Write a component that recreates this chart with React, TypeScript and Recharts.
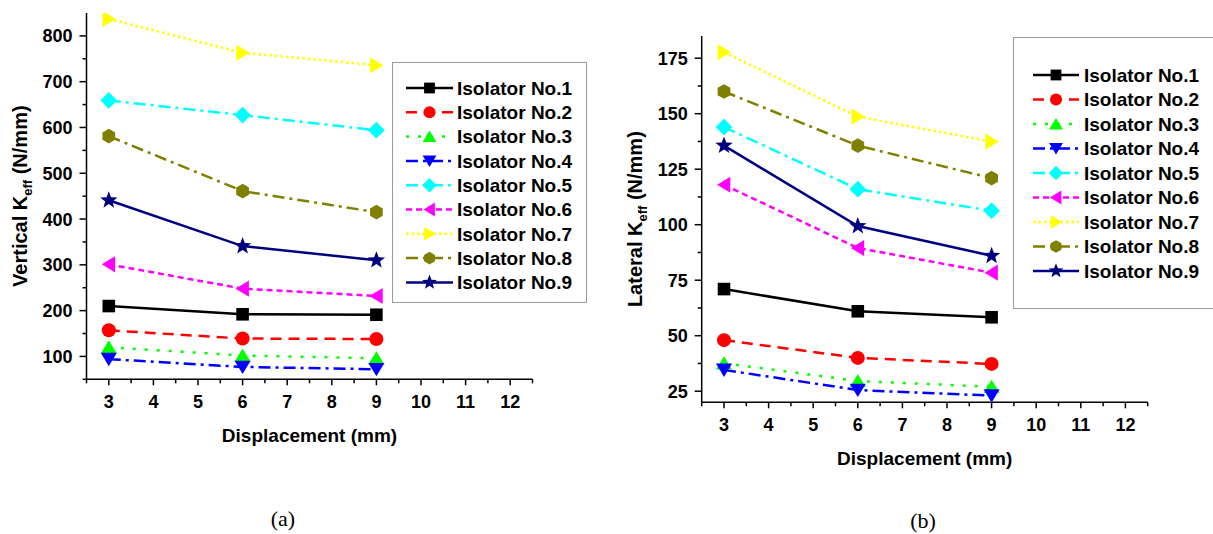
import { LineChart, Line, XAxis, YAxis, Legend } from 'recharts'

// --- Data ---

const displacement = [3, 6, 9]

const isolatorNames = [
  'Isolator No.1',
  'Isolator No.2',
  'Isolator No.3',
  'Isolator No.4',
  'Isolator No.5',
  'Isolator No.6',
  'Isolator No.7',
  'Isolator No.8',
  'Isolator No.9',
]

// (a) vertical effective stiffness, N/mm
const verticalKeff = [
  [210, 192, 191],
  [157, 139, 138],
  [120, 102, 96],
  [94, 77, 72],
  [659, 627, 594],
  [301, 248, 232],
  [837, 763, 736],
  [581, 461, 415],
  [441, 341, 310],
]

// (b) lateral effective stiffness, N/mm
const lateralKeff = [
  [71, 61, 58.3],
  [48, 40, 37.3],
  [37.6, 29.6, 27],
  [34.6, 25.5, 23],
  [144, 116, 106.3],
  [118, 89.5, 78.4],
  [177.7, 148.7, 137.4],
  [160, 135.6, 121],
  [135.6, 99.4, 86],
]

const xTicks = [2.5, 3, 3.5, 4, 4.5, 5, 5.5, 6, 6.5, 7, 7.5, 8, 8.5, 9, 9.5, 10, 10.5, 11, 11.5, 12, 12.5]
const verticalTicks = [50, 100, 150, 200, 250, 300, 350, 400, 450, 500, 550, 600, 650, 700, 750, 800]
const lateralTicks = [25, 37.5, 50, 62.5, 75, 87.5, 100, 112.5, 125, 137.5, 150, 162.5, 175]

// --- Styles ---

type Shape = 'square' | 'circle' | 'up' | 'down' | 'diamond' | 'left' | 'right' | 'hexagon' | 'star'

const seriesStyle: { color: string; dash?: string; shape: Shape }[] = [
  { color: '#000000', shape: 'square' },
  { color: '#ff0000', dash: '11 7', shape: 'circle' },
  { color: '#00ff00', dash: '3 9', shape: 'up' },
  { color: '#0000ff', dash: '12 5 3 5', shape: 'down' },
  { color: '#00ffff', dash: '12 5 3 5', shape: 'diamond' },
  { color: '#ff00ff', dash: '6 4', shape: 'left' },
  { color: '#ffff00', dash: '2.5 3', shape: 'right' },
  { color: '#808000', dash: '12 5 3 5', shape: 'hexagon' },
  { color: '#000080', shape: 'star' },
]

const FONT = "'Liberation Sans', Arial, sans-serif"

function buildRows(values: number[][]) {
  return displacement.map((x, i) => {
    const row: Record<string, number> = { x }
    values.forEach((s, k) => {
      row[`s${k}`] = s[i]
    })
    return row
  })
}

// --- Markers ---

function Marker({ shape, cx, cy, color, s }: { shape: Shape; cx: number; cy: number; color: string; s: number }) {
  const h = s / 2
  switch (shape) {
    case 'square':
      return <rect x={cx - h * 0.9} y={cy - h * 0.9} width={s * 0.9} height={s * 0.9} fill={color} />
    case 'circle':
      return <circle cx={cx} cy={cy} r={h} fill={color} />
    case 'up':
      return <polygon points={`${cx},${cy - h} ${cx - h * 1.15},${cy + h * 0.9} ${cx + h * 1.15},${cy + h * 0.9}`} fill={color} />
    case 'down':
      return <polygon points={`${cx},${cy + h} ${cx - h * 1.15},${cy - h * 0.9} ${cx + h * 1.15},${cy - h * 0.9}`} fill={color} />
    case 'left':
      return <polygon points={`${cx - h},${cy} ${cx + h * 0.9},${cy - h * 1.15} ${cx + h * 0.9},${cy + h * 1.15}`} fill={color} />
    case 'right':
      return <polygon points={`${cx + h},${cy} ${cx - h * 0.9},${cy - h * 1.15} ${cx - h * 0.9},${cy + h * 1.15}`} fill={color} />
    case 'diamond': {
      const r = h * 1.2
      return <polygon points={`${cx},${cy - r} ${cx + r},${cy} ${cx},${cy + r} ${cx - r},${cy}`} fill={color} />
    }
    case 'hexagon': {
      const r = h * 1.05
      const pts = [0, 1, 2, 3, 4, 5]
        .map(k => {
          const a = (Math.PI / 3) * k + Math.PI / 6
          return `${cx + r * Math.cos(a)},${cy + r * Math.sin(a)}`
        })
        .join(' ')
      return <polygon points={pts} fill={color} />
    }
    case 'star': {
      const ro = h * 1.3
      const ri = ro * 0.42
      const pts = Array.from({ length: 10 }, (_, k) => {
        const r = k % 2 === 0 ? ro : ri
        const a = -Math.PI / 2 + (Math.PI / 5) * k
        return `${cx + r * Math.cos(a)},${cy + r * Math.sin(a)}`
      }).join(' ')
      return <polygon points={pts} fill={color} />
    }
  }
  return null
}

// --- Axis pieces ---

function XTick({ x, y, payload }: any) {
  const v = payload.value
  const major = Number.isInteger(v)
  return (
    <g>
      <line x1={x} x2={x} y1={y} y2={y + (major ? 6 : 4)} stroke="#000" strokeWidth={1.5} />
      {major && (
        <text x={x} y={y + 22} dy="0.36em" textAnchor="middle" fontFamily={FONT} fontWeight="bold" fontSize={18} fill="#000">
          {v}
        </text>
      )}
    </g>
  )
}

function makeYTick(step: number, min: number, max: number) {
  return ({ x, y, payload }: any) => {
    const v = payload.value
    const major = v % step === 0
    return (
      <g>
        <line x1={x - (major ? 7 : 4)} x2={x} y1={y} y2={y} stroke="#000" strokeWidth={1.5} />
        {major && v >= min && v <= max && (
          <text x={x - 14} y={y} dy="0.36em" textAnchor="end" fontFamily={FONT} fontWeight="bold" fontSize={18} fill="#000">
            {v}
          </text>
        )}
      </g>
    )
  }
}

function xTitle(props: any) {
  const vb = props.viewBox
  return (
    <text x={vb.x + vb.width / 2} y={vb.y + 56} dy="0.36em" textAnchor="middle" fontFamily={FONT} fontWeight="bold" fontSize={19} fill="#000">
      Displacement (mm)
    </text>
  )
}

function makeYTitle(word: string) {
  return (props: any) => {
    const vb = props.viewBox
    const cx = vb.x + vb.width - 67
    const cy = vb.y + vb.height / 2
    return (
      <text
        x={cx}
        y={cy}
        dy="0.36em"
        textAnchor="middle"
        transform={`rotate(-90, ${cx}, ${cy})`}
        fontFamily={FONT}
        fontWeight="bold"
        fontSize={20}
        fill="#000"
      >
        {word} K
        <tspan fontSize={13} dy={5}>eff</tspan>
        <tspan dy={-5}> (N/mm)</tspan>
      </text>
    )
  }
}

// --- Legend ---

interface LegendLayout {
  width: number
  height: number
  lineX1: number
  lineX2: number
  markerX: number
  textX: number
  firstY: number
  gap: number
}

function LegendBox({ lay, openRight }: { lay: LegendLayout; openRight?: boolean }) {
  return (
    <div
      style={{
        width: lay.width,
        height: lay.height,
        boxSizing: 'border-box',
        border: '1px solid #9a9a9a',
        borderRight: openRight ? 'none' : '1px solid #9a9a9a',
        background: '#fff',
      }}
    >
      <svg width={lay.width - 2} height={lay.height - 2} style={{ display: 'block' }}>
        {isolatorNames.map((name, i) => {
          const st = seriesStyle[i]
          const y = lay.firstY + i * lay.gap
          return (
            <g key={name}>
              <line x1={lay.lineX1} x2={lay.lineX2} y1={y} y2={y} stroke={st.color} strokeWidth={2.5} strokeDasharray={st.dash} />
              <Marker shape={st.shape} cx={lay.markerX} cy={y} color={st.color} s={12} />
              <text x={lay.textX} y={y} dy="0.36em" fontFamily={FONT} fontWeight="bold" fontSize={19} fill="#000">
                {name}
              </text>
            </g>
          )
        })}
      </svg>
    </div>
  )
}

// --- Panel ---

interface PanelProps {
  values: number[][]
  yDomain: [number, number]
  yTicks: number[]
  yStep: number
  yMin: number
  yMax: number
  word: string
  width: number
  height: number
  margin: { top: number; right: number; bottom: number; left: number }
  legendPos: { left: number; top: number }
  legend: LegendLayout
  openRight?: boolean
}

function KeffPanel(p: PanelProps) {
  const rows = buildRows(p.values)
  return (
    <LineChart width={p.width} height={p.height} data={rows} margin={p.margin}>
      <XAxis
        dataKey="x"
        type="number"
        domain={[2.5, 12.5]}
        ticks={xTicks}
        interval={0}
        allowDataOverflow
        height={70}
        tickSize={0}
        tickMargin={0}
        axisLine={{ stroke: '#000', strokeWidth: 1.5 }}
        tick={(t: any) => <XTick {...t} />}
        label={xTitle}
      />
      <YAxis
        type="number"
        domain={p.yDomain}
        ticks={p.yTicks}
        interval={0}
        allowDataOverflow
        width={60}
        tickSize={0}
        tickMargin={0}
        axisLine={{ stroke: '#000', strokeWidth: 1.5 }}
        tick={makeYTick(p.yStep, p.yMin, p.yMax)}
        label={makeYTitle(p.word)}
      />
      <Legend
        layout="vertical"
        align="center"
        verticalAlign="middle"
        wrapperStyle={{ left: p.legendPos.left, top: p.legendPos.top, width: p.legend.width, height: p.legend.height }}
        content={() => <LegendBox lay={p.legend} openRight={p.openRight} />}
      />
      {seriesStyle.map((st, k) => (
        <Line
          key={k}
          dataKey={`s${k}`}
          name={isolatorNames[k]}
          stroke={st.color}
          strokeWidth={2.5}
          strokeDasharray={st.dash}
          isAnimationActive={false}
          activeDot={false}
          dot={(d: any) => <Marker key={`${k}-${d.index}`} shape={st.shape} cx={d.cx} cy={d.cy} color={st.color} s={14} />}
        />
      ))}
    </LineChart>
  )
}

export default function App() {
  return (
    <div style={{ position: 'absolute', left: 0, top: 0, width: 1213, height: 534, overflow: 'hidden', background: '#fff' }}>
      <div style={{ position: 'absolute', left: 0, top: 0 }}>
        <KeffPanel
          values={verticalKeff}
          yDomain={[50, 850]}
          yTicks={verticalTicks}
          yStep={100}
          yMin={100}
          yMax={800}
          word="Vertical"
          width={600}
          height={470}
          margin={{ top: 13, right: 67.5, bottom: 20.7, left: 26.5 }}
          legendPos={{ left: 392, top: 62 }}
          legend={{ width: 195, height: 241, lineX1: 13, lineX2: 60, markerX: 36.5, textX: 64, firstY: 25, gap: 24.3 }}
        />
      </div>
      <div style={{ position: 'absolute', left: 600, top: 0 }}>
        <KeffPanel
          values={lateralKeff}
          yDomain={[20, 185]}
          yTicks={lateralTicks}
          yStep={25}
          yMin={25}
          yMax={175}
          word="Lateral"
          width={613}
          height={490}
          margin={{ top: 36, right: 65.3, bottom: 17.7, left: 41.7 }}
          legendPos={{ left: 413, top: 37 }}
          legend={{ width: 200, height: 272, lineX1: 19, lineX2: 65, markerX: 42, textX: 70, firstY: 37, gap: 24.5 }}
          openRight
        />
      </div>
      <div style={{ position: 'absolute', left: 253, top: 506, width: 60, textAlign: 'center', fontFamily: "'Liberation Serif', 'Times New Roman', serif", fontSize: 22, lineHeight: '26px' }}>
        (a)
      </div>
      <div style={{ position: 'absolute', left: 893, top: 508, width: 60, textAlign: 'center', fontFamily: "'Liberation Serif', 'Times New Roman', serif", fontSize: 22, lineHeight: '26px' }}>
        (b)
      </div>
    </div>
  )
}
